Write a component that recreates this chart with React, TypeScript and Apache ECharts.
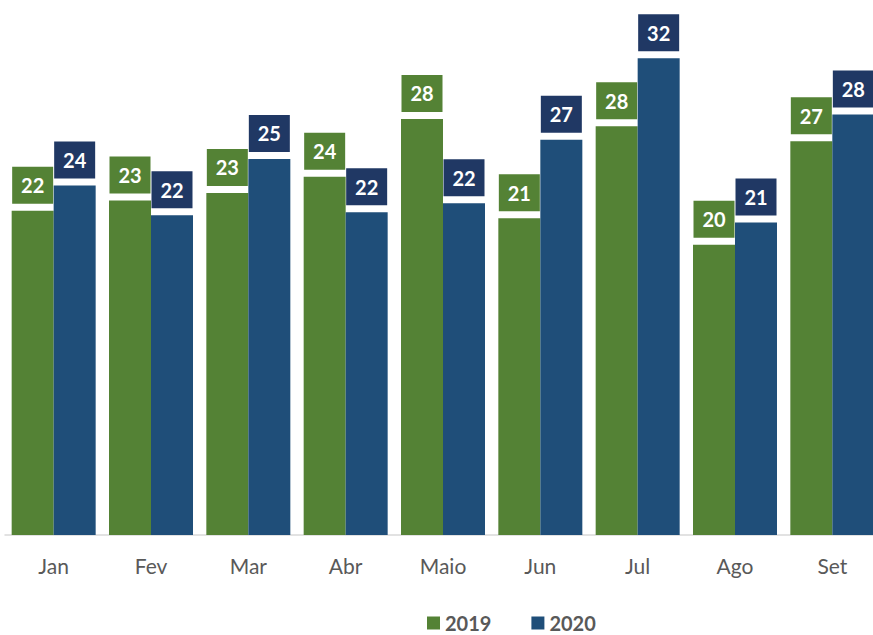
import React, { useEffect, useRef } from "react";
import * as echarts from "echarts";

const categories = ["Jan", "Fev", "Mar", "Abr", "Maio", "Jun", "Jul", "Ago", "Set"];
const values2019 = [21.9, 22.6, 23.1, 24.2, 28.1, 21.4, 27.6, 19.6, 26.6];
const values2020 = [23.6, 21.6, 25.4, 21.8, 22.4, 26.7, 32.2, 21.1, 28.4];

const GREEN = "#548235";
const BLUE = "#1F4E79";
const NAVY = "#203864";

export default function App() {
  const ref = useRef<HTMLDivElement>(null);
  useEffect(() => {
    if (!ref.current) return;
    const chart = echarts.init(ref.current, null, { renderer: "svg" });
    const label = (bg: string) => ({
      show: true,
      position: "top",
      distance: 7,
      formatter: (p: any) => String(Math.round(p.value)),
      color: "#ffffff",
      fontFamily: "Lato",
      fontWeight: "bold",
      fontSize: 20,
      backgroundColor: bg,
      width: 41,
      height: 21,
      lineHeight: 21,
      align: "center",
      padding: [8, 0],
    });
    chart.setOption({
      animation: false,
      grid: { left: 5, top: 2, right: 0, bottom: 100, containLabel: false },
      legend: {
        left: 427,
        top: 613,
        padding: 0,
        itemWidth: 13,
        itemHeight: 13,
        itemGap: 40,
        icon: "rect",
        textStyle: {
          color: "#595959",
          fontFamily: "Lato",
          fontWeight: "bold",
          fontSize: 20,
          lineHeight: 20,
        },
        data: ["2019", "2020"],
      },
      xAxis: {
        type: "category",
        data: categories,
        axisLine: { show: true, lineStyle: { color: "#d9d9d9", width: 1.5 } },
        axisTick: { show: false },
        axisLabel: { color: "#595959", fontFamily: "Lato", fontSize: 21, margin: 20 },
      },
      yAxis: {
        type: "value",
        min: 0,
        max: 36,
        show: false,
        splitLine: { show: false },
      },
      series: [
        {
          name: "2019",
          type: "bar",
          data: values2019,
          barWidth: 42,
          barGap: "0%",
          itemStyle: { color: GREEN },
          label: label(GREEN),
        },
        {
          name: "2020",
          type: "bar",
          data: values2020,
          barWidth: 42,
          barGap: "0%",
          itemStyle: { color: BLUE },
          label: label(NAVY),
        },
      ],
    });
    return () => chart.dispose();
  }, []);
  return (
    <div
      style={{
        position: "fixed",
        left: 0,
        top: 0,
        width: 873,
        height: 635,
        overflow: "hidden",
        background: "#ffffff",
      }}
    >
      <div ref={ref} style={{ width: 881, height: 635 }} />
    </div>
  );
}
